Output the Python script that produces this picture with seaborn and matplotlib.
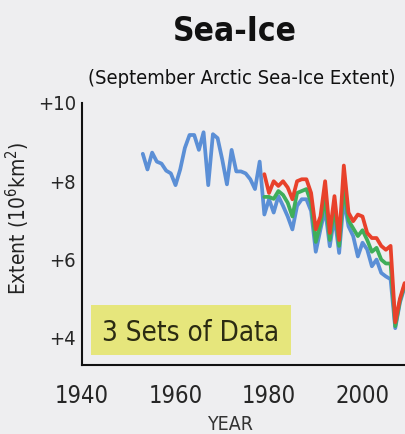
import matplotlib

matplotlib.use("Agg")

import matplotlib.pyplot as plt
import pandas as pd
import seaborn as sns
from matplotlib.patches import Rectangle
from matplotlib.ticker import MultipleLocator

# September Arctic sea-ice extent (10^6 km^2)
YEARS_LONG = list(range(1953, 2010))
SET_BLUE = [
    8.70, 8.30, 8.73, 8.50, 8.45, 8.27, 8.20, 7.90, 8.30, 8.85,
    9.18, 9.18, 8.80, 9.25, 7.90, 9.20, 9.10, 8.55, 7.92, 8.80,
    8.25, 8.25, 8.20, 8.05, 7.80, 8.50, 7.15, 7.54, 7.20, 7.62,
    7.37, 7.10, 6.77, 7.37, 7.54, 7.54, 7.24, 6.20, 6.77, 7.28,
    6.34, 7.10, 6.17, 7.54, 6.85, 6.60, 6.08, 6.43, 6.26, 5.83,
    6.00, 5.66, 5.57, 5.50, 4.25, 4.90, 5.30,
]

YEARS_SAT = list(range(1979, 2010))
SET_GREEN = [
    7.60, 7.60, 7.55, 7.75, 7.65, 7.45, 7.10, 7.70, 7.75, 7.80,
    7.45, 6.45, 6.90, 7.60, 6.50, 7.35, 6.35, 7.90, 7.00, 6.80,
    6.60, 6.75, 6.50, 6.20, 6.30, 6.00, 5.90, 5.90, 4.30, 4.95,
    5.35,
]
SET_RED = [
    8.18, 7.70, 8.00, 7.88, 8.00, 7.84, 7.54, 8.00, 8.05, 8.05,
    7.70, 6.77, 7.10, 8.00, 6.68, 7.62, 6.50, 8.40, 7.20, 6.98,
    7.15, 7.10, 6.68, 6.55, 6.55, 6.35, 6.25, 6.35, 4.40, 5.00,
    5.40,
]

X_TICKS = [1940, 1960, 1980, 2000]
Y_TICKS = [4, 6, 8, 10]
Y_TICK_LABELS = ["+4", "+6", "+8", "+10"]

BG = "#eeeef0"
BLUE = "#5b8fd6"
GREEN = "#3fae5a"
RED = "#e8412b"

sns.set_theme(style="white")
plt.rcParams["font.family"] = ["DejaVu Sans"]
plt.rcParams["font.stretch"] = "condensed"

blue_df = pd.DataFrame({"year": YEARS_LONG, "extent": SET_BLUE})
green_df = pd.DataFrame({"year": YEARS_SAT, "extent": SET_GREEN})
red_df = pd.DataFrame({"year": YEARS_SAT, "extent": SET_RED})

fig = plt.figure(figsize=(4.06, 4.34), dpi=100, facecolor=BG)
ax = fig.add_axes([0.202, 0.159, 0.798, 0.604])
ax.set_facecolor(BG)

for df, color in ((blue_df, BLUE), (green_df, GREEN), (red_df, RED)):
    sns.lineplot(data=df, x="year", y="extent", ax=ax, color=color, linewidth=2.7)

ax.set_xlim(1940, 2009.3)
ax.set_ylim(3.31, 10)

ax.set_xticks(X_TICKS)
ax.set_xticklabels([str(t) for t in X_TICKS], fontsize=17)
ax.xaxis.set_minor_locator(MultipleLocator(10))
ax.set_yticks(Y_TICKS)
ax.set_yticklabels(Y_TICK_LABELS, fontsize=14.5)
ax.tick_params(axis="x", which="major", direction="in", length=7, width=1.5, color="#111111", pad=14)
ax.tick_params(axis="x", which="minor", direction="in", length=5, width=1.5, color="#111111")
ax.tick_params(axis="y", direction="inout", length=7, width=1.5, color="#111111", pad=1)

for side in ("top", "right"):
    ax.spines[side].set_visible(False)
for side in ("left", "bottom"):
    ax.spines[side].set_linewidth(1.5)
    ax.spines[side].set_color("#111111")

ax.set_xlabel("YEAR", fontsize=14, color="#333333")
ax.xaxis.set_label_coords(0.456, -0.19)
ax.set_ylabel("Extent (10$^6$km$^2$)", fontsize=15, color="#222222")
ax.yaxis.set_label_coords(-0.154, 0.56)

# yellow call-out box
fig.add_artist(Rectangle((0.224, 0.182), 0.493, 0.115, transform=fig.transFigure,
                         facecolor="#e6e67c", edgecolor="none", zorder=3))
fig.text(0.251, 0.233, "3 Sets of Data", fontsize=20, color="#2b2b12",
         va="center", ha="left", zorder=4)

fig.text(0.579, 0.927, "Sea-Ice", fontsize=24, fontweight="bold", ha="center", va="center",
         color="#111111")
fig.text(0.596, 0.818, "(September Arctic Sea-Ice Extent)", fontsize=14.5, ha="center",
         va="center", color="#111111")

fig.savefig("out.png", dpi=100, facecolor=BG)
